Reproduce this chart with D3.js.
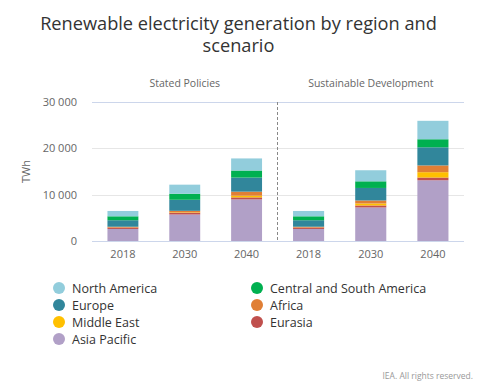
<!DOCTYPE html>
<html><head><meta charset="utf-8">
<script src="https://cdn.jsdelivr.net/npm/d3@7"></script>
<style>
body{margin:0;background:#fff;font-family:"Open Sans",sans-serif;}
svg text{font-family:"Open Sans",sans-serif;}
</style></head>
<body><svg id="c" width="491" height="391"></svg>
<script>
const scenarios = ["Stated Policies", "Sustainable Development"];
const years = ["2018", "2030", "2040"];
const regions = ["Asia Pacific", "Eurasia", "Middle East", "Africa", "Europe", "Central and South America", "North America"];
const colors = ["#b1a0c7", "#c0504d", "#ffc000", "#e07f35", "#31869b", "#00b050", "#92cddc"];
// values per region: [SP2018, SP2030, SP2040, SD2018, SD2030, SD2040]
const asiaPacific   = [2600, 5720, 8980, 2600, 7240, 13110];
const eurasia       = [280, 400, 430, 280, 430, 590];
const middleEast    = [20, 100, 370, 20, 430, 1150];
const africa        = [180, 290, 870, 180, 650, 1460];
const europe        = [1400, 2390, 3040, 1400, 2700, 3910];
const csAmerica     = [850, 1300, 1520, 850, 1430, 1740];
const northAmerica  = [1150, 1960, 2610, 1150, 2390, 3980];
const yTicks = [0, 10000, 20000, 30000];
const legendOrder = ["North America", "Central and South America", "Europe", "Africa", "Middle East", "Eurasia", "Asia Pacific"];

const series = [asiaPacific, eurasia, middleEast, africa, europe, csAmerica, northAmerica];
const rows = [];
scenarios.forEach((s, si) => years.forEach((y, yi) => {
  const r = {scenario: s, year: y};
  regions.forEach((reg, ri) => r[reg] = series[ri][si * 3 + yi]);
  rows.push(r);
}));

const svg = d3.select("#c");
const L = 92, R = 464, T = 102, B = 241, mid = 277.5;
const y = d3.scaleLinear().domain([0, 30000]).range([B, T]);
const panelX = [d3.scaleBand().domain(years).range([L, mid]).paddingInner(0.5).paddingOuter(0.25),
                d3.scaleBand().domain(years).range([mid, R]).paddingInner(0.5).paddingOuter(0.25)];
const color = d3.scaleOrdinal().domain(regions).range(colors);

// title
svg.append("text").attr("x", 238.5).attr("y", 30).attr("text-anchor", "middle").attr("font-size", 18.2).attr("fill", "#333").text("Renewable electricity generation by region and");
svg.append("text").attr("x", 238.5).attr("y", 52).attr("text-anchor", "middle").attr("font-size", 18.2).attr("fill", "#333").text("scenario");

// grid
svg.append("g").selectAll("line").data(yTicks).join("line")
  .attr("x1", L).attr("x2", R).attr("y1", d => Math.round(y(d)) + 0.5).attr("y2", d => Math.round(y(d)) + 0.5)
  .attr("stroke", d => (d === 30000 || d === 0) ? "#ccd6eb" : "#e6e6e6").attr("stroke-width", 1);

// y tick labels
svg.append("g").selectAll("text").data(yTicks).join("text")
  .attr("x", 77).attr("y", d => y(d) + 4).attr("text-anchor", "end").attr("font-size", 11).attr("fill", "#666")
  .text(d => d3.format(",")(d).replace(/,/g, " "));
svg.append("text").attr("transform", `translate(30,${(T + B) / 2}) rotate(-90)`).attr("text-anchor", "middle")
  .attr("font-size", 11).attr("fill", "#666").text("TWh");

// divider
svg.append("line").attr("x1", mid).attr("x2", mid).attr("y1", T).attr("y2", B)
  .attr("stroke", "#888").attr("stroke-dasharray", "3,2").attr("stroke-width", 1);

// panel labels
scenarios.forEach((s, si) => {
  const x = panelX[si];
  svg.append("text").attr("x", (x.range()[0] + x.range()[1]) / 2).attr("y", 87).attr("text-anchor", "middle")
    .attr("font-size", 10.5).attr("fill", "#666").text(s);
  const ax = svg.append("g").attr("transform", `translate(0,${B})`)
    .call(d3.axisBottom(x).tickSize(0).tickPadding(9));
  ax.select(".domain").remove();
  ax.selectAll("text").attr("font-size", 11).attr("fill", "#666").style("font-family", "Open Sans");
});

// bars
const stack = d3.stack().keys(regions)(rows);
stack.forEach(layer => {
  svg.append("g").attr("fill", color(layer.key)).selectAll("rect").data(layer).join("rect")
    .attr("x", d => panelX[scenarios.indexOf(d.data.scenario)](d.data.year))
    .attr("width", d => panelX[scenarios.indexOf(d.data.scenario)].bandwidth())
    .attr("y", d => y(d[1])).attr("height", d => y(d[0]) - y(d[1]));
});

// legend
legendOrder.forEach((reg, i) => {
  const col = i % 2, row = Math.floor(i / 2);
  const cx = col === 0 ? 59 : 257, cy = 288 + row * 17;
  svg.append("circle").attr("cx", cx).attr("cy", cy).attr("r", 6).attr("fill", color(reg));
  svg.append("text").attr("x", cx + 13).attr("y", cy + 4.5).attr("font-size", 12.5).attr("fill", "#333").text(reg);
});

svg.append("text").attr("x", 473).attr("y", 379).attr("text-anchor", "end").attr("font-size", 8.5).attr("fill", "#999")
  .text("IEA. All rights reserved.");
</script></body></html>
